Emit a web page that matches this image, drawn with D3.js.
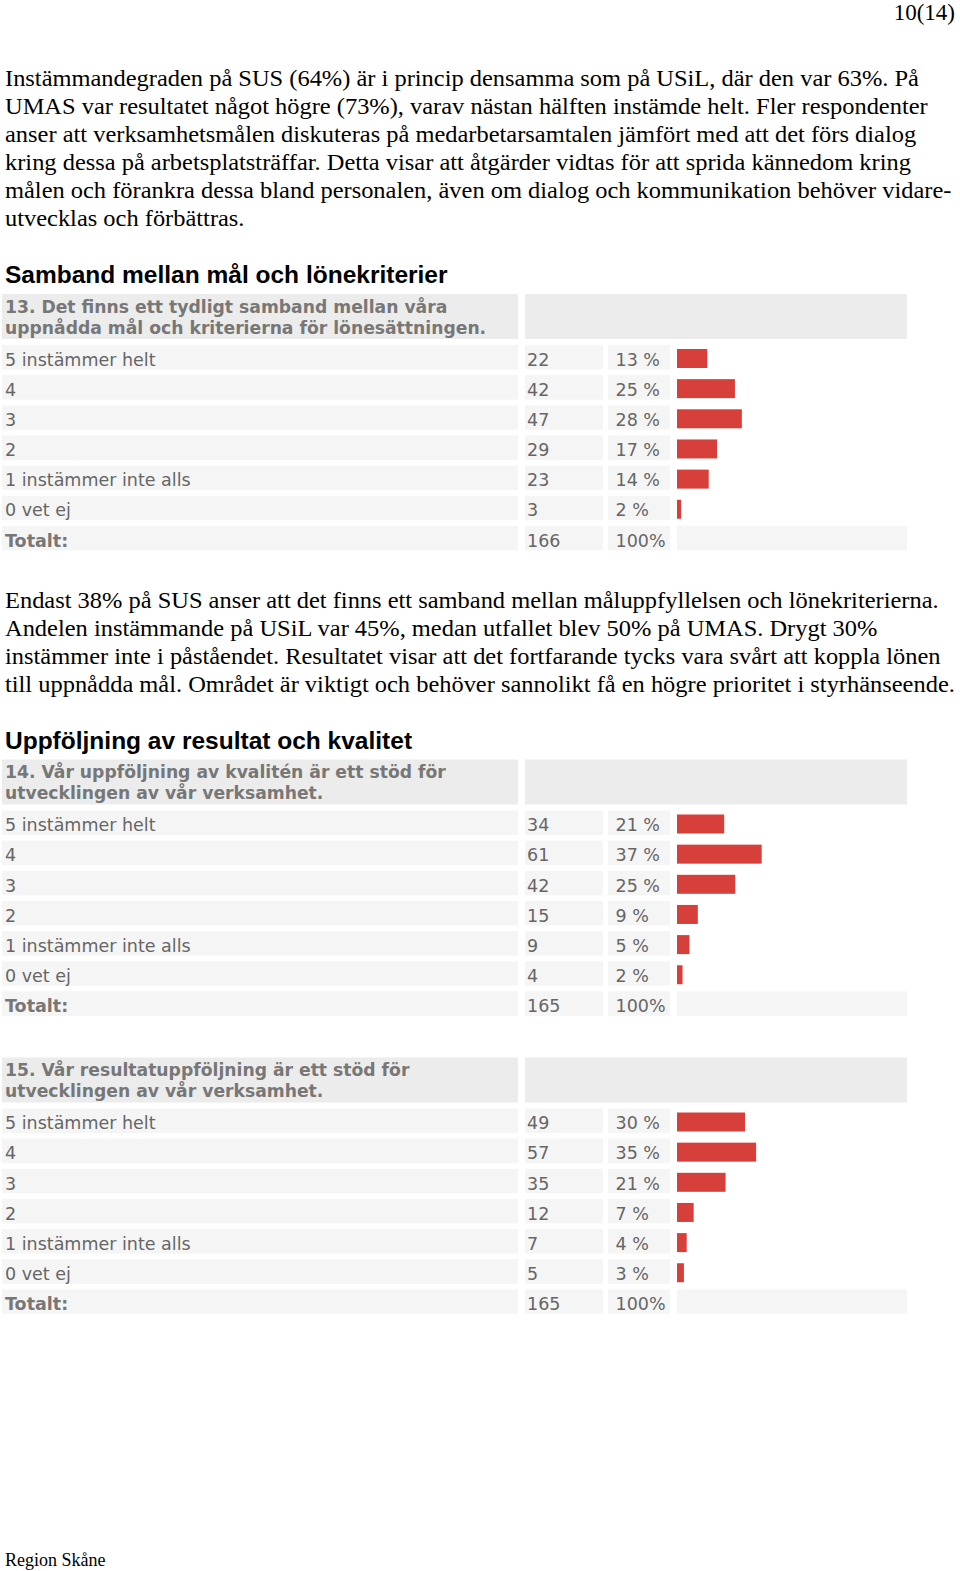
<!DOCTYPE html>
<html><head><meta charset="utf-8">
<script src="https://cdn.jsdelivr.net/npm/d3@7"></script>
<style>
html,body{margin:0;padding:0;background:#fff;}
svg{display:block;}
</style></head>
<body>
<svg id="c" width="960" height="1571"></svg>
<script>
// ---------- data ----------
const categories = ["5 instämmer helt","4","3","2","1 instämmer inte alls","0 vet ej"];
const totalLabel = "Totalt:";

const q13Title = ["13. Det finns ett tydligt samband mellan våra","uppnådda mål och kriterierna för lönesättningen."];
const q13Counts = [22,42,47,29,23,3];
const q13Pct = [13,25,28,17,14,2];
const q13Total = 166;

const q14Title = ["14. Vår uppföljning av kvalitén är ett stöd för","utvecklingen av vår verksamhet."];
const q14Counts = [34,61,42,15,9,4];
const q14Pct = [21,37,25,9,5,2];
const q14Total = 165;

const q15Title = ["15. Vår resultatuppföljning är ett stöd för","utvecklingen av vår verksamhet."];
const q15Counts = [49,57,35,12,7,5];
const q15Pct = [30,35,21,7,4,3];
const q15Total = 165;

const pageNumber = "10(14)";
const footer = "Region Skåne";
const para1 = [
 "Instämmandegraden på SUS (64%) är i princip densamma som på USiL, där den var 63%. På",
 "UMAS var resultatet något högre (73%), varav nästan hälften instämde helt. Fler respondenter",
 "anser att verksamhetsmålen diskuteras på medarbetarsamtalen jämfört med att det förs dialog",
 "kring dessa på arbetsplatsträffar. Detta visar att åtgärder vidtas för att sprida kännedom kring",
 "målen och förankra dessa bland personalen, även om dialog och kommunikation behöver vidare-",
 "utvecklas och förbättras."
];
const heading1 = "Samband mellan mål och lönekriterier";
const para2 = [
 "Endast 38% på SUS anser att det finns ett samband mellan måluppfyllelsen och lönekriterierna.",
 "Andelen instämmande på USiL var 45%, medan utfallet blev 50% på UMAS. Drygt 30%",
 "instämmer inte i påståendet. Resultatet visar att det fortfarande tycks vara svårt att koppla lönen",
 "till uppnådda mål. Området är viktigt och behöver sannolikt få en högre prioritet i styrhänseende."
];
const heading2 = "Uppföljning av resultat och kvalitet";

// ---------- drawing ----------
const svg = d3.select("#c");
const serif = "'Liberation Serif','Times New Roman',serif";
const sans = "'Liberation Sans',Arial,sans-serif";
const tableFont = "'DejaVu Sans',Verdana,sans-serif";

svg.append("text").attr("x",955).attr("y",20).attr("text-anchor","end")
  .attr("font-family",serif).attr("font-size",23).attr("fill","#000").text(pageNumber);

function paragraph(lines, y0){
  svg.append("g").attr("transform","translate(5,0) scale(1.063,1)")
    .selectAll("text").data(lines).join("text")
    .attr("x",0).attr("y",(d,i)=>y0+i*28)
    .attr("font-family",serif).attr("font-size",23).attr("fill","#000")
    .text(d=>d);
}
function heading(t, y){
  svg.append("text").attr("x",5).attr("y",y)
    .attr("font-family",sans).attr("font-weight","bold").attr("font-size",24.5).attr("fill","#000").text(t);
}

paragraph(para1, 86);
heading(heading1, 283);
paragraph(para2, 608);
heading(heading2, 749);

const barColor = "#d7403a";
const rowBg = "#f5f5f5";
const headBg = "#ececec";
const txt = "#666";
const cols = {label:[2,518], count:[525,603], pct:[608,670], bar:[677,907]};
const x = d3.scaleLinear().domain([0,100]).range([cols.bar[0], cols.bar[0]+229]);

function table(top, title, counts, pcts, total){
  const g = svg.append("g");
  // header
  g.append("rect").attr("x",cols.label[0]).attr("y",top).attr("width",cols.label[1]-cols.label[0]).attr("height",45).attr("fill",headBg);
  g.append("rect").attr("x",cols.count[0]).attr("y",top).attr("width",cols.bar[1]-cols.count[0]).attr("height",45).attr("fill",headBg);
  g.selectAll("text.h").data(title).join("text").attr("class","h")
    .attr("x",5).attr("y",(d,i)=>top+18.5+i*21)
    .attr("font-family",tableFont).attr("font-weight","bold").attr("font-size",17.2).attr("fill","#777")
    .text(d=>d);

  const rows = categories.map((c,i)=>({label:c, count:counts[i], pct:pcts[i]+" %", share:counts[i]/total*100, total:false}));
  rows.push({label:totalLabel, count:total, pct:"100%", share:null, total:true});

  const y = d3.scaleBand().domain(d3.range(rows.length))
    .range([top+51, top+51+205.4]).paddingInner(0.1874).paddingOuter(0);
  const bw = y.bandwidth();

  const r = g.selectAll("g.row").data(rows).join("g").attr("class","row")
    .attr("transform",(d,i)=>`translate(0,${y(i)})`);
  r.append("rect").attr("x",cols.label[0]).attr("width",cols.label[1]-cols.label[0]).attr("height",bw).attr("fill",rowBg);
  r.append("rect").attr("x",cols.count[0]).attr("width",cols.count[1]-cols.count[0]).attr("height",bw).attr("fill",rowBg);
  r.append("rect").attr("x",cols.pct[0]).attr("width",cols.pct[1]-cols.pct[0]).attr("height",bw).attr("fill",rowBg);
  r.filter(d=>d.total).append("rect").attr("x",cols.bar[0]).attr("width",cols.bar[1]-cols.bar[0]).attr("height",bw).attr("fill",rowBg);
  r.filter(d=>!d.total).append("rect").attr("x",x(0)).attr("y",4).attr("width",d=>x(d.share)-x(0)).attr("height",19).attr("fill",barColor);

  const ty = bw/2+8.5;
  r.append("text").attr("x",5).attr("y",ty).attr("font-family",tableFont).attr("font-size",17.5)
    .attr("font-weight",d=>d.total?"bold":"normal").attr("fill",d=>d.total?"#777":txt).text(d=>d.label);
  r.append("text").attr("x",527).attr("y",ty).attr("font-family",tableFont).attr("font-size",17.5).attr("fill",txt).text(d=>d.count);
  r.append("text").attr("x",615.5).attr("y",ty).attr("font-family",tableFont).attr("font-size",17.5).attr("fill",txt).text(d=>d.pct);
}

table(294, q13Title, q13Counts, q13Pct, q13Total);
table(759.5, q14Title, q14Counts, q14Pct, q14Total);
table(1057.5, q15Title, q15Counts, q15Pct, q15Total);

svg.append("text").attr("x",5).attr("y",1566)
  .attr("font-family",serif).attr("font-size",18).attr("fill","#000").text(footer);
</script>
</body></html>
